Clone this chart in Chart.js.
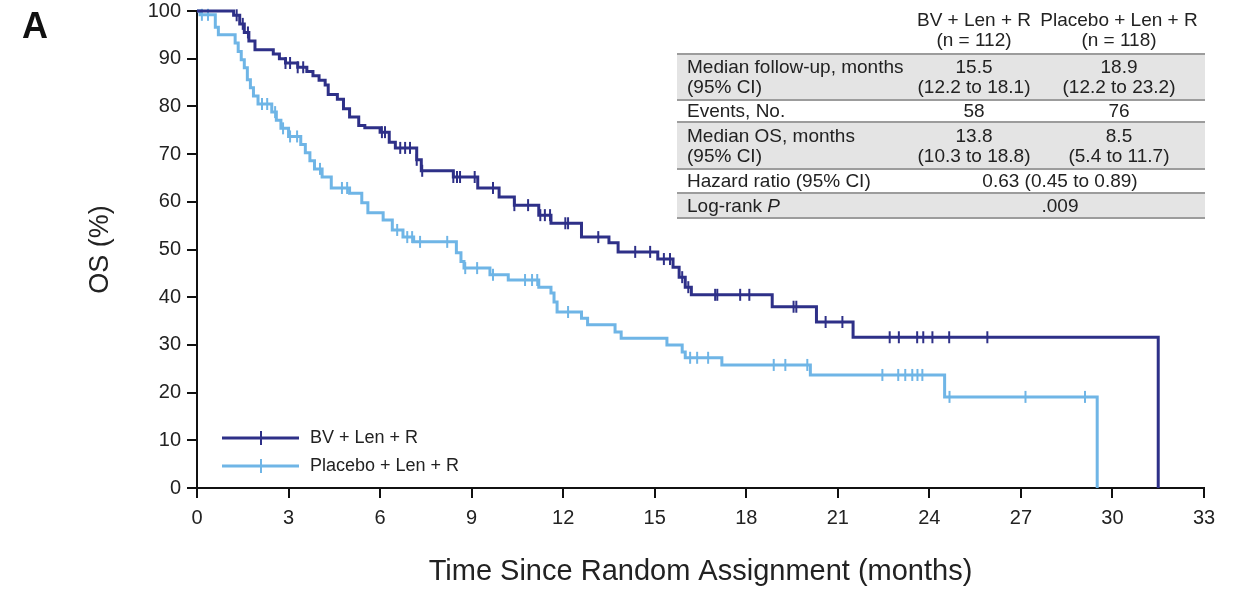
<!DOCTYPE html>
<html>
<head>
<meta charset="utf-8">
<script src="https://cdn.jsdelivr.net/npm/chart.js"></script>
<style>
    body { margin: 0; background: #fff; }
    #wrap { position: relative; width: 1238px; height: 589px; }
    #tbl {
        position: absolute; left: 677px; top: 0; width: 528px;
        font: 19px "Liberation Sans", Arial, sans-serif; color: #222; line-height: 20px;
    }
    #tbl .r { display: grid; grid-template-columns: 238px 118px 172px; box-sizing: border-box; align-items: center; }
    #tbl .r div { white-space: nowrap; }
    #tbl .r div + div { text-align: center; }
    #tbl .r .lab { padding-left: 10px; }
    #tbl .hdr { height: 53px; align-items: end; padding-bottom: 3px; }
    #tbl .b { border-top: 2px solid #9c9c9c; }
    #tbl .g { background: #e4e4e4; }
    #tbl .span { grid-column: 2 / 4; }
</style>
</head>
<body>
<div id="wrap">
    <canvas id="km"></canvas>
    <div id="tbl">
        <div class="r hdr"><div></div><div>BV + Len + R<br>(n = 112)</div><div>Placebo + Len + R<br>(n = 118)</div></div>
        <div class="r b g" style="height:46px"><div class="lab">Median follow-up, months<br>(95% CI)</div><div>15.5<br>(12.2 to 18.1)</div><div>18.9<br>(12.2 to 23.2)</div></div>
        <div class="r b" style="height:22px"><div class="lab">Events, No.</div><div>58</div><div>76</div></div>
        <div class="r b g" style="height:47px"><div class="lab">Median OS, months<br>(95% CI)</div><div>13.8<br>(10.3 to 18.8)</div><div>8.5<br>(5.4 to 11.7)</div></div>
        <div class="r b" style="height:24px"><div class="lab">Hazard ratio (95% CI)</div><div class="span">0.63 (0.45 to 0.89)</div></div>
        <div class="r b g" style="height:27px;border-bottom:2px solid #9c9c9c"><div class="lab">Log-rank <i>P</i></div><div class="span">.009</div></div>
    </div>
</div>
<script>
// series names
const arms = ['BV + Len + R', 'Placebo + Len + R'];

// BV + Len + R: step times (months) and OS (%) after each step
const bvTime = [0, 1.2, 1.4, 1.55, 1.7, 1.9, 2.5, 2.7, 2.9, 3.3, 3.6, 3.8, 4.0, 4.2, 4.3, 4.6, 4.8, 5.0, 5.3, 5.5,
    6.0, 6.3, 6.5, 7.2, 7.35, 8.4, 9.2, 9.9, 10.4, 11.2, 11.6, 12.6, 13.5, 13.8, 15.1, 15.6, 15.8, 16.0, 16.2,
    18.85, 20.3, 21.5, 31.5];
const bvSurv = [100, 99.1, 97.3, 95.5, 93.7, 91.9, 91.0, 90.0, 89.1, 88.2, 87.3, 86.4, 85.5, 84.5, 82.5, 81.5, 79.5, 77.8, 76.0, 75.5,
    74.6, 72.5, 71.3, 68.8, 66.5, 65.2, 62.9, 61.0, 59.3, 57.2, 55.5, 52.6, 51.4, 49.5, 48.0, 46.3, 44.2, 42.1, 40.5,
    38.0, 34.8, 31.6, 0];
const bvCensor = [1.3, 1.5, 1.67, 2.9, 3.05, 3.3, 3.48, 6.06, 6.16, 6.66, 6.82, 6.98, 7.2, 7.38, 8.4, 8.52, 8.62, 9.1, 9.7,
    10.4, 10.85, 11.25, 11.4, 11.57, 12.07, 12.16, 13.15, 14.36, 14.85, 15.3, 15.5, 15.9, 16.1, 16.98, 17.05, 17.8, 18.1,
    19.55, 19.64, 20.6, 21.15, 22.7, 23.0, 23.6, 23.8, 24.1, 24.65, 25.9];

// Placebo + Len + R
const plTime = [0, 0.1, 0.6, 0.7, 1.25, 1.35, 1.45, 1.55, 1.65, 1.75, 1.85, 2.0, 2.45, 2.6, 2.75, 3.0, 3.4, 3.55, 3.7, 3.85,
    4.1, 4.4, 5.0, 5.4, 5.6, 6.1, 6.4, 6.75, 7.1, 8.5, 8.65, 8.75, 9.6, 10.2, 11.2, 11.6, 11.7, 11.8, 12.6, 12.8,
    13.7, 13.9, 15.4, 15.9, 16.0, 17.2, 20.1, 24.5, 29.5];
const plSurv = [100, 99.2, 96.6, 95.0, 93.3, 91.5, 89.8, 88.1, 85.6, 83.9, 82.2, 80.5, 78.8, 77.1, 75.4, 73.7, 72.0, 70.3, 68.6, 66.9,
    65.2, 62.9, 61.8, 59.8, 57.7, 56.2, 54.1, 52.6, 51.6, 49.3, 47.5, 46.1, 44.7, 43.6, 42.1, 40.9, 39.0, 36.9, 35.6, 34.2,
    32.7, 31.4, 30.0, 28.5, 27.3, 25.8, 23.7, 19.1, 0];
const plCensor = [0.16, 0.36, 2.13, 2.3, 2.56, 2.82, 3.05, 3.28, 4.03, 4.75, 4.92, 6.56, 6.89, 7.05, 7.31, 8.2, 8.79, 9.18, 9.7,
    10.75, 10.98, 11.15, 12.16, 16.16, 16.39, 16.75, 18.9, 19.28, 20.0, 22.46, 22.98, 23.21, 23.44, 23.61, 23.77, 24.66,
    27.15, 29.1];

const xTitle = 'Time Since Random Assignment (months)';
const yTitle = 'OS (%)';

const DARK = '#2e3088';
const LIGHT = '#6fb5e6';

function steps(times, surv) {
    return times.map((t, i) => ({ x: t, y: surv[i] }));
}

// survival level at a censor time
function survAt(times, surv, t) {
    let v = surv[0];
    for (let i = 0; i < times.length; i++) {
        if (times[i] <= t) v = surv[i];
    }
    return v;
}

function marks(censor, times, surv) {
    return censor.map(t => ({ x: t, y: survAt(times, surv, t) }));
}

const curve = (label, data, color) => ({
    label: label, data: data, borderColor: color, borderWidth: 3,
    stepped: 'before', pointRadius: 0, fill: false, clip: false
});
const ticks = (data, color) => ({
    data: data, showLine: false, pointStyle: 'line', pointRotation: 90,
    pointRadius: 6, pointBorderWidth: 2, pointBorderColor: color, borderColor: color, clip: false
});

// panel letter and legend drawn inside the plot
const extras = {
    id: 'extras',
    afterDraw(chart) {
        const ctx = chart.ctx;
        ctx.save();
        ctx.fillStyle = '#111';
        ctx.font = 'bold 36px "Liberation Sans", Arial';
        ctx.textBaseline = 'alphabetic';
        ctx.fillText('A', 22, 38);

        [[DARK, 438], [LIGHT, 466]].forEach(([c, y], i) => {
            ctx.strokeStyle = c;
            ctx.lineWidth = 3;
            ctx.beginPath(); ctx.moveTo(222, y); ctx.lineTo(299, y); ctx.stroke();
            ctx.lineWidth = 2;
            ctx.beginPath(); ctx.moveTo(261, y - 7); ctx.lineTo(261, y + 7); ctx.stroke();
            ctx.fillStyle = '#222';
            ctx.font = '18px "Liberation Sans", Arial';
            ctx.textBaseline = 'middle';
            ctx.fillText(arms[i], 310, y);
        });
        ctx.restore();
    }
};

const axisTicks = { drawOnChartArea: false, drawTicks: true, tickLength: 10, color: '#111', lineWidth: 2 };

new Chart(document.getElementById('km'), {
    type: 'line',
    data: {
        datasets: [
            curve(arms[0], steps(bvTime, bvSurv), DARK),
            curve(arms[1], steps(plTime, plSurv), LIGHT),
            ticks(marks(bvCensor, bvTime, bvSurv), DARK),
            ticks(marks(plCensor, plTime, plSurv), LIGHT)
        ]
    },
    options: {
        responsive: true,
        maintainAspectRatio: false,
        animation: false,
        layout: { padding: { top: 0, right: 34, left: 0, bottom: 0 } },
        plugins: { legend: { display: false }, tooltip: { enabled: false } },
        scales: {
            x: {
                type: 'linear', min: 0, max: 33,
                ticks: { stepSize: 3, color: '#222', padding: 8, font: { size: 20, family: '"Liberation Sans", Arial' } },
                grid: axisTicks,
                border: { display: true, color: '#111', width: 2 },
                title: { display: true, text: xTitle, color: '#222', padding: { bottom: 0 },
                    font: { size: 29, family: '"Liberation Sans Narrow", "Liberation Sans", Arial' } },
                afterFit(scale) { scale.height = 101; }
            },
            y: {
                min: 0, max: 100,
                ticks: { stepSize: 10, color: '#222', padding: 6, font: { size: 20, family: '"Liberation Sans", Arial' } },
                grid: axisTicks,
                border: { display: true, color: '#111', width: 2 },
                title: { display: true, text: yTitle, color: '#222', padding: { top: 84 },
                    font: { size: 27, family: '"Liberation Sans Narrow", "Liberation Sans", Arial' } },
                afterFit(scale) {
                    scale.width = 197;
                    scale.paddingTop = 11;
                }
            }
        }
    },
    plugins: [extras]
});
</script>
</body>
</html>
